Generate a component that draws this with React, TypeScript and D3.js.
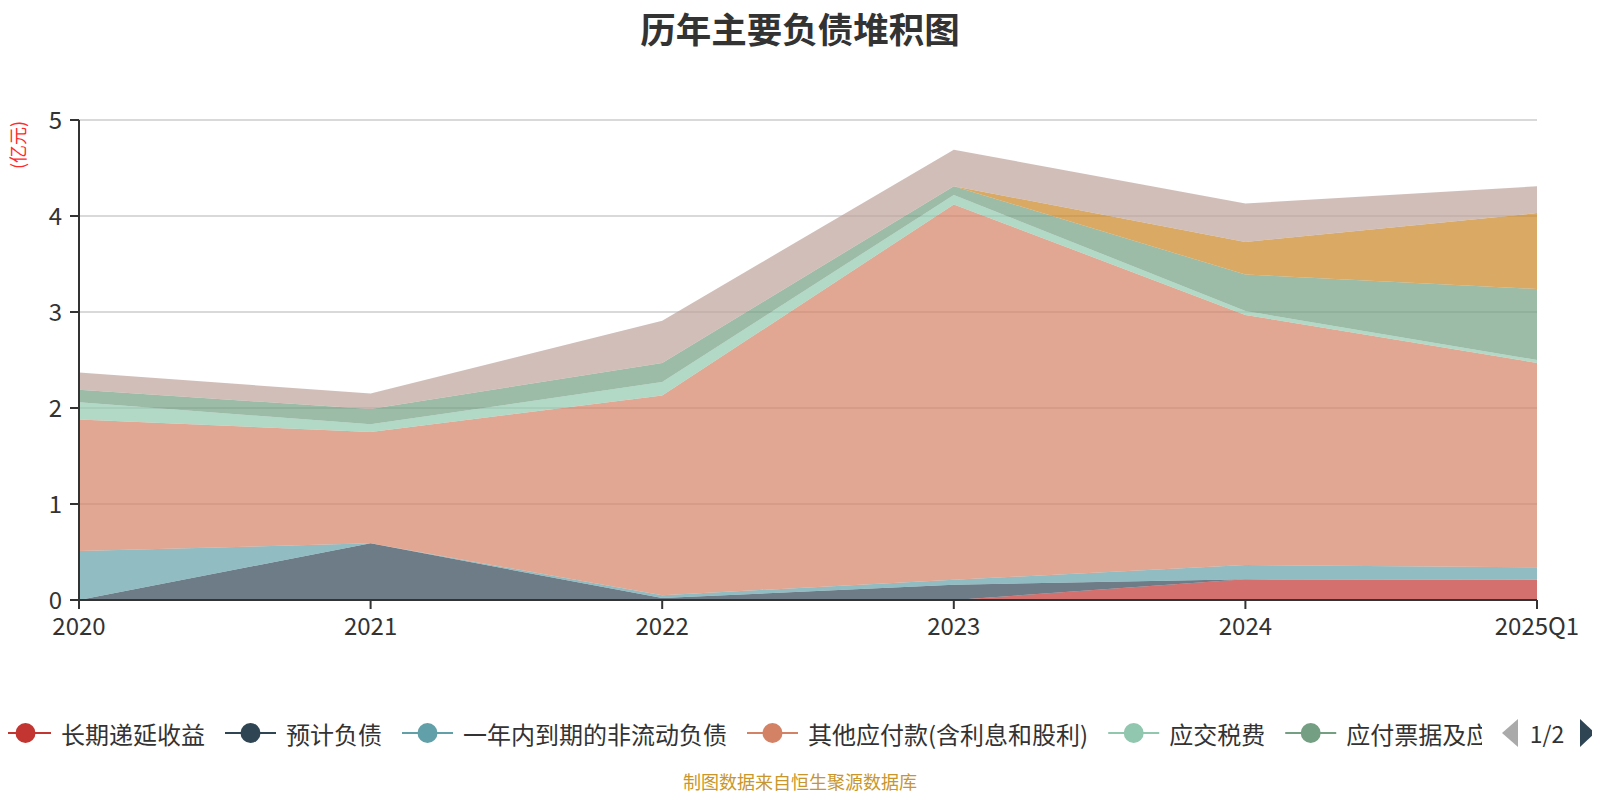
import * as d3 from "d3";

const categories = ["2020", "2021", "2022", "2023", "2024", "2025Q1"];

const seriesNames = [
  "长期递延收益",
  "预计负债",
  "一年内到期的非流动负债",
  "其他应付款(含利息和股利)",
  "应交税费",
  "应付票据及应付账款",
  "合同负债",
  "应付职工薪酬",
];

// values in 亿元, bottom of the stack first
const deferredIncome = [0, 0, 0, 0, 0.215, 0.21];
const provisions = [0, 0.59, 0.02, 0.16, 0, 0];
const currentNonCurrent = [0.51, 0, 0.03, 0.05, 0.15, 0.13];
const otherPayables = [1.37, 1.16, 2.08, 3.91, 2.605, 2.13];
const taxesPayable = [0.18, 0.08, 0.14, 0.1, 0.04, 0.03];
const notesAccountsPayable = [0.13, 0.16, 0.2, 0.09, 0.38, 0.74];
const contractLiabilities = [0, 0, 0, 0, 0.34, 0.79];
const payroll = [0.18, 0.16, 0.44, 0.38, 0.4, 0.28];

const seriesValues = [
  deferredIncome,
  provisions,
  currentNonCurrent,
  otherPayables,
  taxesPayable,
  notesAccountsPayable,
  contractLiabilities,
  payroll,
];

const colors = ["#c23531", "#2f4554", "#61a0a8", "#d48265", "#91c7ae", "#749f83", "#ca8622", "#bda29a"];

const yTicks = [0, 1, 2, 3, 4, 5];

// first legend page, the last label is cut off by the page width
const legendLabels = [
  "长期递延收益",
  "预计负债",
  "一年内到期的非流动负债",
  "其他应付款(含利息和股利)",
  "应交税费",
  "应付票据及应",
];

const width = 1600;
const height = 800;
const margin = { left: 79, right: 63, top: 120, bottom: 200 };
const cjk = '"Noto Sans CJK SC", "Microsoft YaHei", sans-serif';

const measureCanvas = typeof document !== "undefined" ? document.createElement("canvas") : null;
const measure = (text: string, font: string) => {
  const ctx = measureCanvas?.getContext("2d");
  if (!ctx) return text.length * 24;
  ctx.font = font;
  return ctx.measureText(text).width;
};

type Row = { [k: string]: number | string };

export default function App() {
  const rows: Row[] = categories.map((c, i) => {
    const r: Row = { cat: c };
    seriesNames.forEach((n, s) => (r[n] = seriesValues[s][i]));
    return r;
  });

  const stack = d3.stack<Row>().keys(seriesNames).value((d, k) => d[k] as number);
  const layers = stack(rows);

  const xScale = d3
    .scalePoint<string>()
    .domain(categories)
    .range([margin.left, width - margin.right]);
  const yScale = d3
    .scaleLinear()
    .domain([0, 5])
    .range([height - margin.bottom, margin.top]);

  const area = d3
    .area<d3.SeriesPoint<Row>>()
    .x((d) => xScale(d.data.cat as string) ?? 0)
    .y0((d) => yScale(d[0]))
    .y1((d) => yScale(d[1]));

  const x0 = margin.left;
  const x1 = width - margin.right;
  const yBase = yScale(0);

  // legend layout
  const legendSize = 24;
  const legendFont = `${legendSize}px ${cjk}`;
  const legendY = 733;
  const iconW = 51;
  const gap = 20;
  let cursor = 0;
  const legendItems = legendLabels.map((name, i) => {
    const item = { name, color: colors[i], x: cursor };
    cursor += iconW + 10 + measure(name, legendFont) + gap;
    return item;
  });

  return (
    <svg width={width} height={height} viewBox={`0 0 ${width} ${height}`} style={{ display: "block", margin: -8 }}>
      <rect width={width} height={height} fill="#fff" />
      <text
        x={width / 2}
        y={27}
        textAnchor="middle"
        dominantBaseline="central"
        fontFamily={cjk}
        fontWeight="bold"
        fontSize={35.5}
        fill="#333"
      >
        历年主要负债堆积图
      </text>

      <text
        transform={`translate(17, 145) rotate(-90)`}
        textAnchor="middle"
        dominantBaseline="central"
        fontFamily={cjk}
        fontSize={18}
        fill="#ff2a2a"
      >
        (亿元)
      </text>

      {/* grid */}
      {yTicks.slice(1).map((t) => (
        <line key={t} x1={x0} x2={x1} y1={yScale(t)} y2={yScale(t)} stroke="#ccc" strokeWidth={1.5} />
      ))}

      {/* stacked areas */}
      {layers.map((layer, i) => (
        <path key={layer.key} d={area(layer) ?? ""} fill={colors[i]} fillOpacity={0.7} stroke="none" />
      ))}

      {/* y axis */}
      <line x1={x0} x2={x0} y1={yScale(5)} y2={yBase} stroke="#333" strokeWidth={2} />
      {yTicks.map((t) => (
        <g key={t}>
          <line x1={x0 - 9} x2={x0} y1={yScale(t)} y2={yScale(t)} stroke="#333" strokeWidth={2} />
          <text
            x={x0 - 17}
            y={yScale(t) - 2}
            textAnchor="end"
            dominantBaseline="central"
            fontFamily={cjk}
            fontSize={24}
            fill="#333"
          >
            {t}
          </text>
        </g>
      ))}

      {/* x axis */}
      <line x1={x0} x2={x1} y1={yBase} y2={yBase} stroke="#333" strokeWidth={2} />
      {categories.map((c) => (
        <g key={c}>
          <line x1={xScale(c)} x2={xScale(c)} y1={yBase} y2={yBase + 9} stroke="#333" strokeWidth={2} />
          <text
            x={xScale(c)}
            y={yBase + 24}
            textAnchor="middle"
            dominantBaseline="central"
            fontFamily={cjk}
            fontSize={24}
            fill="#333"
          >
            {c}
          </text>
        </g>
      ))}

      {/* legend */}
      <defs>
        <clipPath id="legendClip">
          <rect x={0} y={legendY - 30} width={1482} height={60} />
        </clipPath>
      </defs>
      <g clipPath="url(#legendClip)">
        {legendItems.map((it) => (
          <g key={it.name} transform={`translate(${it.x}, ${legendY})`}>
            <line x1={0} x2={iconW} y1={0} y2={0} stroke={it.color} strokeWidth={2} />
            <circle cx={iconW / 2} cy={0} r={10} fill={it.color} />
            <text
              x={iconW + 10}
              y={0}
              dominantBaseline="central"
              fontFamily={cjk}
              fontSize={legendSize}
              fill="#333"
            >
              {it.name}
            </text>
          </g>
        ))}
      </g>
      <path d={`M1518,${legendY - 14} L1502,${legendY} L1518,${legendY + 14} Z`} fill="#aaa" />
      <text
        x={1547}
        y={legendY}
        textAnchor="middle"
        dominantBaseline="central"
        fontFamily={cjk}
        fontSize={23}
        fill="#333"
      >
        1/2
      </text>
      <path d={`M1580,${legendY - 14} L1595,${legendY} L1580,${legendY + 14} Z`} fill="#2f4554" />

      <text
        x={width / 2}
        y={781}
        textAnchor="middle"
        dominantBaseline="central"
        fontFamily={cjk}
        fontSize={18}
        fill="#c9962c"
      >
        制图数据来自恒生聚源数据库
      </text>
    </svg>
  );
}
